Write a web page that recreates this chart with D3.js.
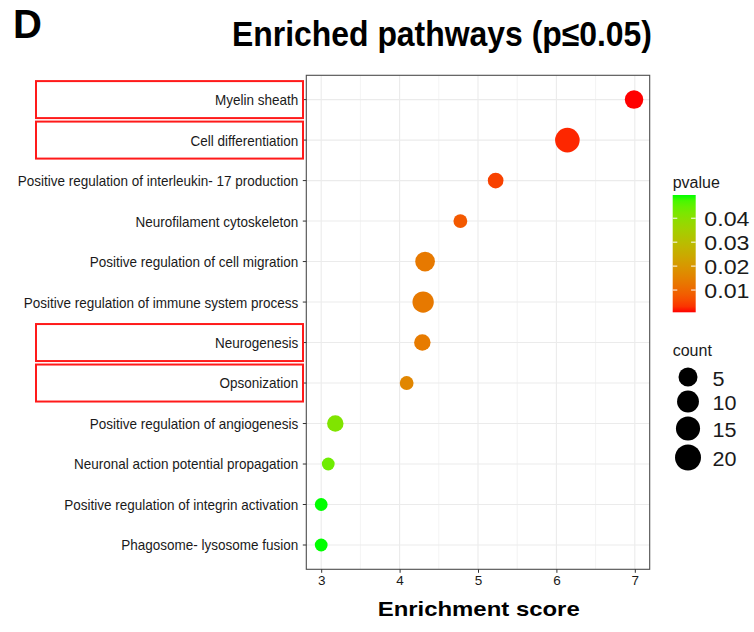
<!DOCTYPE html>
<html><head><meta charset="utf-8">
<script src="https://cdn.jsdelivr.net/npm/d3@7"></script>
<style>body{margin:0;background:#fff} svg{display:block} text{font-family:"Liberation Sans",Arial,sans-serif}</style>
</head><body><svg id="c" width="754" height="632"></svg>
<script>
const categories = ["Myelin sheath", "Cell differentiation", "Positive regulation of interleukin- 17 production", "Neurofilament cytoskeleton", "Positive regulation of cell migration", "Positive regulation of immune system process", "Neurogenesis", "Opsonization", "Positive regulation of angiogenesis", "Neuronal action potential propagation", "Positive regulation of integrin activation", "Phagosome- lysosome fusion"];
const enrichment = [6.99, 6.14, 5.225, 4.775, 4.325, 4.30, 4.29, 4.09, 3.18, 3.09, 3.00, 3.00];
const counts = [10, 22, 6, 4, 12, 15, 7, 4, 7, 3, 3, 3];
const pvalues = [0.0007, 0.0022, 0.0046, 0.0076, 0.0134, 0.0134, 0.0137, 0.016, 0.0414, 0.0438, 0.0497, 0.0497];
const highlighted = ["Myelin sheath", "Cell differentiation", "Neurogenesis", "Opsonization"];
const xTicks = [3, 4, 5, 6, 7];
const xMinor = [3.5, 4.5, 5.5, 6.5];
const pTicks = [0.01, 0.02, 0.03, 0.04];
const countTicks = [5, 10, 15, 20];

const data = categories.map((c, i) => ({cat: c, x: enrichment[i], n: counts[i], p: pvalues[i]}));
const svg = d3.select("#c");
const SY = 1.12;
const P = {l: 306.3, r: 649.7, t: 75.3, b: 569.3};

const x = d3.scaleLinear().domain([2.81, 7.19]).range([P.l, P.r]);
const y = d3.scalePoint().domain(categories).range([P.t, P.b]).padding(0.6);
const pMin = d3.min(pvalues), pMax = d3.max(pvalues);
const color = d3.scaleLinear().domain([pMin, pMax]).range(["#ff0000", "#00ff00"]).interpolate(d3.interpolateLab);
const size = d3.scaleSqrt().domain([d3.min(counts), d3.max(counts)]).range([6.4, 12.3]);

// grid
const g = svg.append("g");
g.selectAll(".minor").data(xMinor).join("line")
  .attr("x1", d => x(d)).attr("x2", d => x(d)).attr("y1", P.t).attr("y2", P.b)
  .attr("stroke", "#ebebeb").attr("stroke-width", 0.6);
g.selectAll(".majx").data(xTicks).join("line")
  .attr("x1", d => x(d)).attr("x2", d => x(d)).attr("y1", P.t).attr("y2", P.b)
  .attr("stroke", "#ebebeb").attr("stroke-width", 1.1);
g.selectAll(".majy").data(categories).join("line")
  .attr("x1", P.l).attr("x2", P.r).attr("y1", d => y(d)).attr("y2", d => y(d))
  .attr("stroke", "#ebebeb").attr("stroke-width", 1.1);

// points
g.selectAll("circle.pt").data(data).join("circle")
  .attr("cx", d => x(d.x)).attr("cy", d => y(d.cat)).attr("r", d => size(d.n))
  .attr("fill", d => color(d.p));

// border
svg.append("rect").attr("x", P.l).attr("y", P.t).attr("width", P.r - P.l).attr("height", P.b - P.t)
  .attr("fill", "none").attr("stroke", "#4d4d4d").attr("stroke-width", 1.1);

// axes
const ya = svg.append("g").attr("transform", `translate(${P.l},0)`)
  .call(d3.axisLeft(y).tickSize(3.5).tickPadding(4.5));
ya.select(".domain").remove();
ya.selectAll("line").attr("stroke", "#333");
ya.selectAll("text").attr("font-size", 13.5).attr("fill", "#1a1a1a")
  .attr("font-family", "Liberation Sans, Arial, sans-serif")
  .attr("dy", "0.36em").attr("transform", `scale(1,${SY})`);
ya.selectAll(".tick").attr("transform", d => `translate(0,${y(d)})`);

const xa = svg.append("g").attr("transform", `translate(0,${P.b})`)
  .call(d3.axisBottom(x).tickValues(xTicks).tickSize(3.5).tickPadding(2.5).tickFormat(d3.format("d")));
xa.select(".domain").remove();
xa.selectAll("line").attr("stroke", "#333");
xa.selectAll("text").attr("font-size", 13.5).attr("fill", "#1a1a1a")
  .attr("font-family", "Liberation Sans, Arial, sans-serif");

// highlight boxes
svg.selectAll("rect.hl").data(highlighted).join("rect")
  .attr("x", 36).attr("y", d => y(d) - 18.5).attr("width", 267).attr("height", 37)
  .attr("fill", "none").attr("stroke", "#ff1a1a").attr("stroke-width", 2);

// titles
svg.append("text").attr("x", 13).attr("y", 38).attr("font-size", 40).attr("font-weight", "bold").text("D");
svg.append("text").attr("transform", `translate(232,46) scale(1,1.1)`).attr("font-size", 32)
  .attr("font-weight", "bold").attr("textLength", 420).attr("lengthAdjust", "spacingAndGlyphs")
  .text("Enriched pathways (p≤0.05)");
svg.append("text").attr("transform", `translate(377.7,616)`).attr("font-size", 21)
  .attr("font-weight", "bold").attr("textLength", 202).attr("lengthAdjust", "spacingAndGlyphs")
  .text("Enrichment score");

// colour legend
const lg = svg.append("g");
lg.append("text").attr("transform", `translate(672.7,188)`).attr("font-size", 16).attr("fill", "#1a1a1a").text("pvalue");
const cbTop = 195, cbBot = 312.3, cbX = 672.7, cbW = 23;
const py = d3.scaleLinear().domain([pMin, pMax]).range([cbBot, cbTop]);
const defs = svg.append("defs");
const grad = defs.append("linearGradient").attr("id", "pg").attr("x1", 0).attr("y1", 1).attr("x2", 0).attr("y2", 0);
d3.range(0, 1.0001, 0.05).forEach(t => {
  grad.append("stop").attr("offset", t).attr("stop-color", color(pMin + t * (pMax - pMin)));
});
lg.append("rect").attr("x", cbX).attr("y", cbTop).attr("width", cbW).attr("height", cbBot - cbTop).attr("fill", "url(#pg)");
pTicks.forEach(v => {
  lg.append("line").attr("x1", cbX).attr("x2", cbX + 4.6).attr("y1", py(v)).attr("y2", py(v)).attr("stroke", "#fff").attr("stroke-width", 1);
  lg.append("line").attr("x1", cbX + cbW - 4.6).attr("x2", cbX + cbW).attr("y1", py(v)).attr("y2", py(v)).attr("stroke", "#fff").attr("stroke-width", 1);
  lg.append("text").attr("transform", `translate(704.3,${py(v) + 8.2}) scale(1,0.9)`).attr("font-size", 23.2).attr("fill", "#1a1a1a").text(v.toFixed(2));
});

// size legend
const ls = d3.scaleSqrt().domain([5, 20]).range([9.5, 13]);
lg.append("text").attr("transform", `translate(672.7,356)`).attr("font-size", 16).attr("fill", "#1a1a1a").text("count");
let cy = 377;
countTicks.forEach((v, i) => {
  if (i > 0) cy += ls(countTicks[i - 1]) + ls(v) + 4;
  lg.append("circle").attr("cx", 688).attr("cy", cy).attr("r", ls(v)).attr("fill", "#000");
  lg.append("text").attr("transform", `translate(712.5,${cy + 8.5}) scale(1,0.9)`).attr("font-size", 21.6).attr("fill", "#1a1a1a").text(v);
});
</script></body></html>
